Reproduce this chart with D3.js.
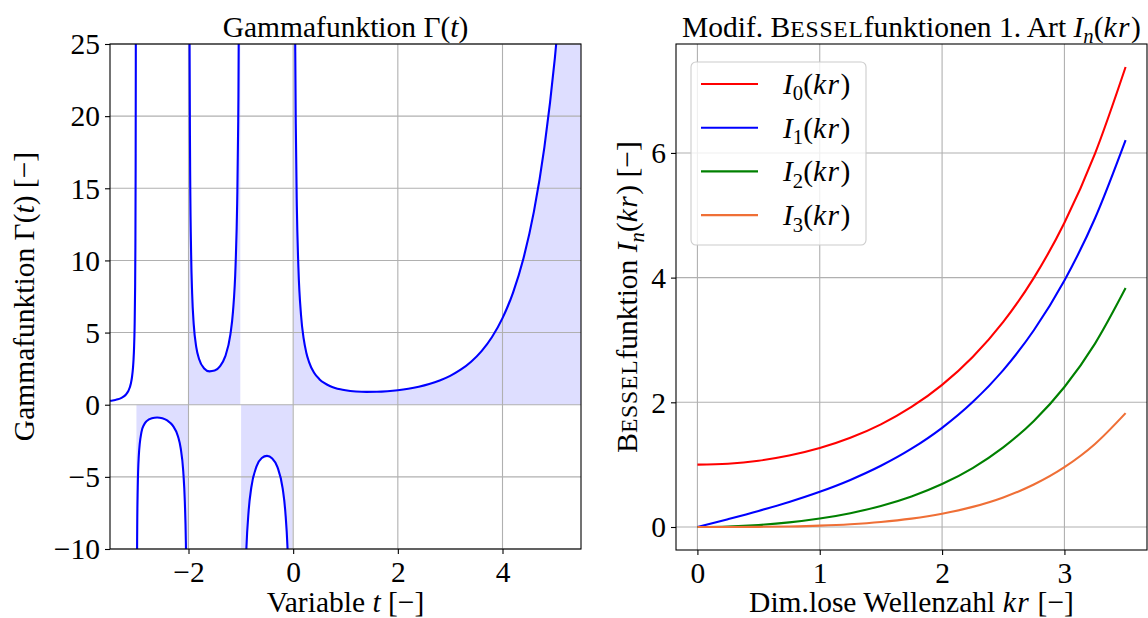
<!DOCTYPE html>
<html><head><meta charset="utf-8">
<script src="https://cdn.jsdelivr.net/npm/d3@7"></script>
<style>
html,body{margin:0;padding:0;background:#fff;}
svg text{font-family:"Liberation Serif","Times New Roman",serif;fill:#000;}
</style></head>
<body><svg id="fig" width="1148" height="618"></svg>
<script>
// ---- Gamma function, sampled per branch between the poles ----
const gammaT1 = [-3.5,-3.45,-3.4,-3.35,-3.3,-3.25,-3.2,-3.15,-3.1,-3.08,-3.06,-3.05,-3.04,-3.03,-3.02,-3.015,-3.01,-3.007,-3.005];
const gammaV1 = [0.2700,0.2930,0.3259,0.3723,0.4385,0.5362,0.6890,0.9523,1.4923,1.9033,2.593,3.1425,3.972,5.357,8.133,10.906,16.461,23.60,33.12];
const gammaT2 = [-2.995,-2.99,-2.98,-2.97,-2.95,-2.9,-2.85,-2.8,-2.7,-2.6,-2.5,-2.4,-2.3,-2.2,-2.15,-2.1,-2.07,-2.05,-2.03,-2.02,-2.01,-2.005];
const gammaV2 = [-33.54,-16.88,-8.550,-5.777,-3.563,-1.9184,-1.3880,-1.1386,-0.9311,-0.8887,-0.9453,-1.1080,-1.4472,-2.2049,-2.9997,-4.626,-6.744,-9.584,-16.24,-24.56,-49.55,-99.5];
const gammaT3 = [-1.995,-1.99,-1.98,-1.97,-1.95,-1.93,-1.9,-1.85,-1.8,-1.7,-1.6,-1.5,-1.4,-1.3,-1.2,-1.15,-1.1,-1.07,-1.05,-1.03,-1.02,-1.01];
const gammaV3 = [100.45,50.47,25.48,17.157,10.510,7.674,5.5635,3.9557,3.1881,2.5139,2.3106,2.3633,2.6593,3.3285,4.8508,6.449,9.7145,13.960,19.648,32.96,49.62,99.59];
const gammaT4 = [-0.995,-0.99,-0.98,-0.97,-0.95,-0.93,-0.9,-0.85,-0.8,-0.7,-0.6,-0.5,-0.4,-0.3,-0.2,-0.15,-0.1,-0.07,-0.05,-0.03,-0.02,-0.01];
const gammaV4 = [-200.4,-100.44,-50.45,-33.80,-20.495,-14.811,-10.571,-7.318,-5.7385,-4.2737,-3.6970,-3.5449,-3.7230,-4.3270,-5.8210,-7.417,-10.686,-14.937,-20.63,-33.95,-50.61,-100.59];
const gammaT5 = [0.005,0.01,0.02,0.03,0.04,0.05,0.07,0.1,0.15,0.2,0.25,0.3,0.4,0.5,0.6,0.7,0.8,0.9,1.0,1.2,1.4,1.6,1.8,2.0,2.2,2.4,2.6,2.8,3.0,3.2,3.4,3.6,3.8,4.0,4.2,4.4,4.6,4.8,5.0,5.1,5.2,5.4,5.5];
const gammaV5 = [199.4,99.43,49.44,32.785,24.46,19.470,13.774,9.5135,6.2203,4.5908,3.6256,2.9916,2.2182,1.7725,1.4892,1.2981,1.1642,1.0686,1.0,0.9182,0.8873,0.8935,0.9314,1.0,1.1018,1.2422,1.4296,1.6765,2.0,2.4240,2.9812,3.7170,4.6942,6.0,7.7567,10.136,13.381,17.838,24.0,27.93,32.578,44.599,52.343];

const gammaXTicks = [-2, 0, 2, 4];
const gammaYTicks = [-10, -5, 0, 5, 10, 15, 20, 25];

// ---- Modified Bessel functions of the first kind ----
const kr = [0,0.25,0.5,0.75,1.0,1.25,1.5,1.75,2.0,2.25,2.5,2.75,3.0,3.25,3.5];
const besselI0 = [1,1.015686,1.063483,1.145646,1.266066,1.430468,1.646723,1.925252,2.279585,2.727079,3.289839,3.995913,4.880793,5.989336,7.378203];
const besselI1 = [0,0.125979,0.257894,0.401992,0.565159,0.755282,0.981666,1.255538,1.590637,2.003967,2.516716,3.155410,3.953370,4.952546,6.205835];
const besselI2 = [0,0.007853,0.031907,0.073666,0.135748,0.222018,0.337835,0.490351,0.688948,0.945775,1.276466,1.701069,2.245212,2.941615,3.832012];
const besselI3 = [0,0.000327,0.002645,0.009102,0.022168,0.044822,0.080773,0.134736,0.212740,0.322589,0.474370,0.681128,0.959754,1.332097,1.826393];
const besselOrders = ["0", "1", "2", "3"];
const besselColors = ["#ff0000", "#0000ff", "#008000", "#ef6f36"];
const besselXTicks = [0, 1, 2, 3];
const besselYTicks = [0, 2, 4, 6];

const FS = 29.5;
const svg = d3.select("#fig");

// text helper: parts with italic / subscript / small-caps runs
function rich(textSel, parts, size) {
  let shifted = 0;
  parts.forEach(p => {
    const ts = textSel.append("tspan").text(p.t);
    if (p.it) ts.attr("font-style", "italic");
    if (p.sc) ts.attr("font-size", size * 0.8);
    if (p.ls) ts.attr("letter-spacing", p.ls);
    if (p.sub) {
      ts.attr("font-size", size * 0.7).attr("dy", size * 0.22 - shifted);
      shifted = size * 0.22;
    } else if (shifted) {
      ts.attr("dy", -shifted);
      shifted = 0;
    }
  });
  return textSel;
}

function panel(box, xDom, yDom, xTicks, yTicks, id) {
  const x = d3.scaleLinear().domain(xDom).range([box.l, box.r]);
  const y = d3.scaleLinear().domain(yDom).range([box.b, box.t]);
  const g = svg.append("g");
  g.append("clipPath").attr("id", id).append("rect")
    .attr("x", box.l).attr("y", box.t).attr("width", box.r - box.l).attr("height", box.b - box.t);
  const under = g.append("g").attr("clip-path", `url(#${id})`);
  const grid = g.append("g");
  const over = g.append("g").attr("clip-path", `url(#${id})`);
  xTicks.forEach(v => grid.append("line").attr("x1", x(v)).attr("x2", x(v)).attr("y1", box.t).attr("y2", box.b)
    .attr("stroke", "#b0b0b0").attr("stroke-width", 1.1));
  yTicks.forEach(v => grid.append("line").attr("x1", box.l).attr("x2", box.r).attr("y1", y(v)).attr("y2", y(v))
    .attr("stroke", "#b0b0b0").attr("stroke-width", 1.1));
  const ax = g.append("g").attr("transform", `translate(0,${box.b})`)
    .call(d3.axisBottom(x).tickValues(xTicks).tickSize(5).tickFormat(d3.format("d")));
  const ay = g.append("g").attr("transform", `translate(${box.l},0)`)
    .call(d3.axisLeft(y).tickValues(yTicks).tickSize(5).tickFormat(d3.format("d")));
  [ax, ay].forEach(a => {
    a.select(".domain").remove();
    a.selectAll("line").attr("stroke", "#000").attr("stroke-width", 1.1);
    a.selectAll("text").attr("font-size", FS).attr("fill", "#000");
  });
  ax.selectAll("text").attr("y", 12).attr("dy", "0.71em");
  ay.selectAll("text").attr("x", -10).attr("dy", "0.33em");
  g.append("rect").attr("x", box.l).attr("y", box.t)
    .attr("width", box.r - box.l).attr("height", box.b - box.t)
    .attr("fill", "none").attr("stroke", "#000").attr("stroke-width", 1.1);
  return {x, y, g, under, over};
}

// ---- left panel: Gamma function ----
const L = {l: 110, r: 581, t: 44, b: 549};
const P1 = panel(L, [-3.5, 5.5], [-10, 25], gammaXTicks, gammaYTicks, "clipL");

const branches = [
  [gammaT1, gammaV1, false],
  [gammaT2, gammaV2, true],
  [gammaT3, gammaV3, true],
  [gammaT4, gammaV4, true],
  [gammaT5, gammaV5, true]
];
const areaG = d3.area().x(d => P1.x(d[0])).y0(P1.y(0)).y1(d => P1.y(d[1])).curve(d3.curveMonotoneX);
const lineG = d3.line().x(d => P1.x(d[0])).y(d => P1.y(d[1])).curve(d3.curveMonotoneX);
branches.forEach(([ts, vs, filled]) => {
  const pts = ts.map((t, i) => [t, vs[i]]);
  if (filled) P1.under.append("path").attr("d", areaG(pts)).attr("fill", "#dedeff");
  P1.over.append("path").attr("d", lineG(pts)).attr("fill", "none")
    .attr("stroke", "#0000ff").attr("stroke-width", 2.1);
});

rich(svg.append("text").attr("x", (L.l + L.r) / 2).attr("y", 37).attr("text-anchor", "middle").attr("font-size", FS),
  [{t: "Gammafunktion \u0393("}, {t: "t", it: true}, {t: ")"}], FS);
rich(svg.append("text").attr("x", (L.l + L.r) / 2).attr("y", 612).attr("text-anchor", "middle").attr("font-size", FS),
  [{t: "Variable "}, {t: "t", it: true}, {t: " [\u2212]"}], FS);
rich(svg.append("text").attr("transform", `translate(34,${(L.t + L.b) / 2}) rotate(-90)`)
  .attr("text-anchor", "middle").attr("font-size", FS),
  [{t: "Gammafunktion \u0393("}, {t: "t", it: true}, {t: ") [\u2212]"}], FS);

// ---- right panel: modified Bessel functions ----
const R = {l: 676, r: 1147, t: 44, b: 550};
const yMax = d3.max(besselI0), yPad = 0.05 * yMax;
const P2 = panel(R, [-0.175, 3.675], [-yPad, yMax + yPad], besselXTicks, besselYTicks, "clipR");
const besselSeries = [besselI0, besselI1, besselI2, besselI3];
const lineB = d3.line().x(d => P2.x(d[0])).y(d => P2.y(d[1])).curve(d3.curveMonotoneX);
besselSeries.forEach((vals, i) => {
  P2.over.append("path").attr("d", lineB(kr.map((k, j) => [k, vals[j]])))
    .attr("fill", "none").attr("stroke", besselColors[i]).attr("stroke-width", 2.1);
});

// legend
const lg = svg.append("g");
lg.append("rect").attr("x", 691).attr("y", 62).attr("width", 175).attr("height", 183).attr("rx", 5)
  .attr("fill", "#fff").attr("fill-opacity", 0.8).attr("stroke", "#cccccc").attr("stroke-width", 1.1);
besselOrders.forEach((n, i) => {
  const cy = 84 + i * 43.7;
  lg.append("line").attr("x1", 701).attr("x2", 758).attr("y1", cy).attr("y2", cy)
    .attr("stroke", besselColors[i]).attr("stroke-width", 2.1);
  rich(lg.append("text").attr("x", 783).attr("y", cy + 10).attr("font-size", FS),
    [{t: "I", it: true}, {t: n, sub: true}, {t: "("}, {t: "kr", it: true, ls: 1.5}, {t: ")"}], FS);
});

rich(svg.append("text").attr("x", (R.l + R.r) / 2).attr("y", 37).attr("text-anchor", "middle").attr("font-size", FS),
  [{t: "Modif. B"}, {t: "ESSEL", sc: true, ls: 0.8}, {t: "funktionen 1. Art "}, {t: "I", it: true}, {t: "n", it: true, sub: true},
   {t: "("}, {t: "kr", it: true, ls: 1.5}, {t: ")"}], FS);
rich(svg.append("text").attr("x", (R.l + R.r) / 2).attr("y", 612).attr("text-anchor", "middle").attr("font-size", FS),
  [{t: "Dim.lose Wellenzahl "}, {t: "kr", it: true, ls: 1.5}, {t: " [\u2212]"}], FS);
rich(svg.append("text").attr("transform", `translate(637,${(R.t + R.b) / 2}) rotate(-90)`)
  .attr("text-anchor", "middle").attr("font-size", FS),
  [{t: "B"}, {t: "ESSEL", sc: true, ls: 0.8}, {t: "funktion "}, {t: "I", it: true}, {t: "n", it: true, sub: true},
   {t: "("}, {t: "kr", it: true, ls: 1.5}, {t: ") [\u2212]"}], FS);
</script>
</body></html>
